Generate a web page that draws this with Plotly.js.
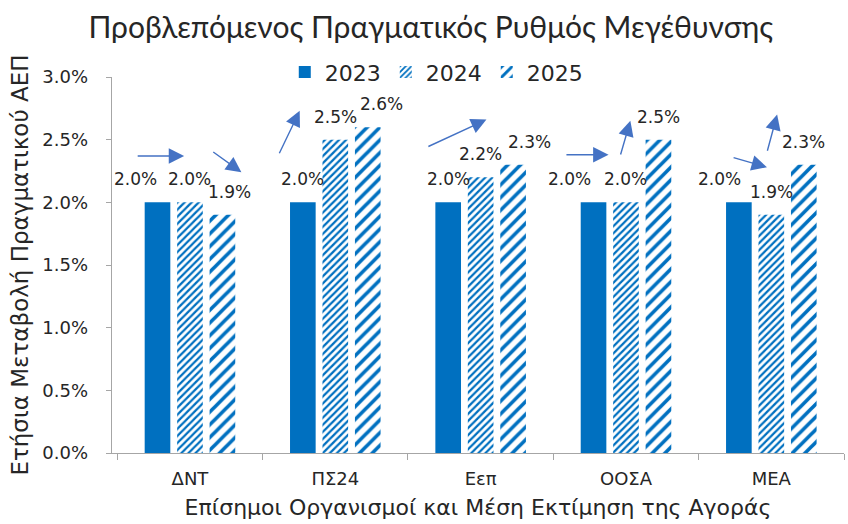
<!DOCTYPE html>
<html><head><meta charset="utf-8">
<script src="https://cdn.plot.ly/plotly-3.0.1.min.js"></script>
<style>html,body{margin:0;padding:0;background:#fff}#chart{width:848px;height:524px}</style>
</head><body><div id="chart"></div>
<script>
const categories = ['ΔΝΤ', 'ΠΣ24', 'Εεπ', 'ΟΟΣΑ', 'ΜΕΑ'];
const years = ['2023', '2024', '2025'];
const v2023 = [2.0, 2.0, 2.0, 2.0, 2.0];
const v2024 = [2.0, 2.5, 2.2, 2.0, 1.9];
const v2025 = [1.9, 2.6, 2.3, 2.5, 2.3];
const yTicks = [0, 0.5, 1.0, 1.5, 2.0, 2.5, 3.0];

// trend arrows: [tailX, tailY, headX, headY] in axis units (category index, %)
const arrows = [
  [-0.37, 2.37, -0.04, 2.37],
  [0.15, 2.41, 0.354, 2.24],
  [0.61, 2.38, 0.755, 2.73],
  [1.63, 2.44, 2.04, 2.66],
  [2.58, 2.38, 2.88, 2.38],
  [2.96, 2.37, 3.03, 2.65],
  [3.73, 2.36, 3.97, 2.28],
  [3.97, 2.40, 4.04, 2.70]
];

const BLUE = '#0070C0';
const FONT = '"DejaVu Sans", Verdana, sans-serif';
const FONT_TITLE = 'Lato, "Noto Sans", sans-serif';
const TXT = '#262626';
const bargap = 0.33, groupgap = 0.21;
const slot = (1 - bargap) / 3;

const series = [v2023, v2024, v2025];
const patterns = [
  {shape: ''},
  {shape: '/', size: 5, solidity: 0.45, fgcolor: BLUE, bgcolor: '#ffffff', fillmode: 'replace'},
  {shape: '/', size: 9, solidity: 0.4, fgcolor: BLUE, bgcolor: '#ffffff', fillmode: 'replace'}
];

const traces = series.map((vals, i) => ({
  type: 'bar',
  name: years[i],
  x: categories,
  y: vals,
  marker: {color: i === 0 ? BLUE : '#ffffff', pattern: patterns[i], line: {width: 0}},
  hoverinfo: 'skip'
}));

// label x-shift (px) where the original moved overlapping labels
const labelShift = [[-22, 0, 0, -24, -19], [0, 0, 0, 0, 0], [7, 14, 16, 0, 0]];

const annotations = [];
series.forEach((vals, i) => {
  vals.forEach((v, j) => {
    annotations.push({
      x: j + (i - 1) * slot, y: v, xref: 'x', yref: 'y',
      text: v.toFixed(1) + '%', showarrow: false,
      yshift: 23, xshift: labelShift[i][j],
      font: {family: FONT, size: 17, color: TXT}
    });
  });
});
arrows.forEach(a => {
  annotations.push({
    x: a[2], y: a[3], ax: a[0], ay: a[1],
    xref: 'x', yref: 'y', axref: 'x', ayref: 'y',
    text: '', showarrow: true, arrowhead: 2, arrowsize: 2.2, arrowwidth: 1.4,
    arrowcolor: '#4472C4', standoff: 0
  });
});

const layout = {
  width: 848, height: 524,
  margin: {l: 112, r: 4, t: 77, b: 71},
  paper_bgcolor: '#ffffff', plot_bgcolor: '#ffffff',
  barmode: 'group', bargap: bargap, bargroupgap: groupgap,
  title: {text: 'Προβλεπόμενος Πραγματικός Ρυθμός Μεγέθυνσης', x: 0.508, xanchor: 'center', y: 0.948, yanchor: 'middle',
          font: {family: FONT_TITLE, size: 30, color: TXT}},
  showlegend: true,
  legend: {orientation: 'h', x: 0.443, xanchor: 'center', y: 1.013, yanchor: 'middle',
           font: {family: FONT, size: 22, color: TXT}, itemwidth: 30, bgcolor: 'rgba(0,0,0,0)', traceorder: 'normal'},
  xaxis: {
    type: 'category', showgrid: false, showline: true, linecolor: '#a6a6a6', linewidth: 1.3,
    ticks: 'outside', tickson: 'boundaries', ticklen: 6, tickcolor: '#a6a6a6',
    ticklabelstandoff: 9,
    tickfont: {family: FONT, size: 18, color: TXT},
    title: {text: 'Επίσημοι Οργανισμοί και Μέση Εκτίμηση της Αγοράς', standoff: 11,
            font: {family: FONT, size: 22, color: TXT}}
  },
  yaxis: {
    range: [0, 3], tickvals: yTicks, ticktext: yTicks.map(t => t.toFixed(1) + '%'),
    showgrid: false, zeroline: false, showline: true, linecolor: '#a6a6a6', linewidth: 1.3,
    ticks: 'outside', ticklen: 5, tickcolor: '#a6a6a6',
    ticklabelstandoff: 14,
    tickfont: {family: FONT, size: 18, color: TXT},
    title: {text: 'Ετήσια Μεταβολή Πραγματικού ΑΕΠ', standoff: 7,
            font: {family: FONT, size: 23, color: TXT}}
  },
  annotations: annotations
};

Plotly.newPlot('chart', traces, layout, {displayModeBar: false, staticPlot: true});
</script></body></html>
